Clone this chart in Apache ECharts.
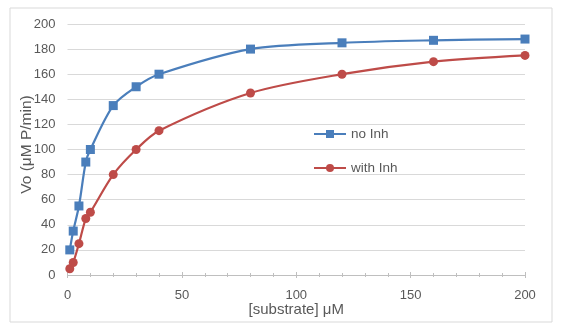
<!DOCTYPE html>
<html><head><meta charset="utf-8">
<script src="https://cdn.jsdelivr.net/npm/echarts@6/dist/echarts.min.js"></script>
<style>html,body{margin:0;padding:0;background:#fff}#c{width:563px;height:332px}</style>
</head><body><div id="c"></div>
<script>
var substrate = [1, 2.5, 5, 8, 10, 20, 30, 40, 80, 120, 160, 200];
var noInh = [20, 35, 55, 90, 100, 135, 150, 160, 180, 185, 187, 188];
var withInh = [5, 10, 25, 45, 50, 80, 100, 115, 145, 160, 170, 175];
var seriesNames = ['no Inh', 'with Inh'];
var xTitle = '[substrate] μM';
var yTitle = 'Vo (μM P/min)';

function pairs(xs, ys){ return xs.map(function(x,i){ return [x, ys[i]]; }); }
var FONT = 'Liberation Sans';
var GRAY = '#595959';
var chart = echarts.init(document.getElementById('c'), null, {renderer:'canvas'});
chart.setOption({
  animation:false,
  backgroundColor:'#fff',
  textStyle:{fontFamily:FONT},
  graphic:[{type:'rect', shape:{x:10,y:8,width:542,height:314}, style:{fill:'none', stroke:'#d9d9d9', lineWidth:1}, z:-10}],
  grid:{left:67.5, right:38, top:24, bottom:57},
  legend:{
    orient:'vertical', left:308, top:122, itemGap:20, itemWidth:32, itemHeight:10,
    textStyle:{color:GRAY, fontSize:13.5, fontFamily:FONT},
    data:seriesNames
  },
  xAxis:[{
    type:'value', min:0, max:200, interval:50,
    name:xTitle, nameLocation:'middle', nameGap:27, nameMoveOverlap:false,
    nameTextStyle:{color:GRAY, fontSize:15, fontFamily:FONT},
    axisLine:{lineStyle:{color:'#bfbfbf'}},
    axisTick:{show:true, length:3, lineStyle:{color:'#bfbfbf'}},
    minorTick:{show:true, splitNumber:5, length:2, lineStyle:{color:'#bfbfbf'}},
    axisLabel:{color:GRAY, fontSize:13, margin:14},
    splitLine:{show:false}
  },{
    type:'value', min:0, max:200, interval:50, position:'bottom',
    axisLine:{show:false},
    axisTick:{show:true, inside:true, length:3, lineStyle:{color:'#bfbfbf'}},
    minorTick:{show:true, splitNumber:5, length:2, lineStyle:{color:'#bfbfbf'}},
    axisLabel:{show:false}, splitLine:{show:false}
  }],
  yAxis:{
    type:'value', min:0, max:200, interval:20,
    name:yTitle, nameLocation:'middle', nameGap:33, nameRotate:90, nameMoveOverlap:false,
    nameTextStyle:{color:GRAY, fontSize:15.5, fontFamily:FONT, padding:[0,0,0,10]},
    axisLine:{show:false}, axisTick:{show:false},
    axisLabel:{color:GRAY, fontSize:13, margin:12},
    splitLine:{lineStyle:{color:'#d9d9d9'}}
  },
  series:[
    {name:seriesNames[0], type:'line', data:pairs(substrate,noInh), smooth:0.3,
     symbol:'rect', symbolSize:9, color:'#4a7ebb',
     lineStyle:{width:2.2, color:'#4a7ebb'}, itemStyle:{color:'#4a7ebb'}},
    {name:seriesNames[1], type:'line', data:pairs(substrate,withInh), smooth:0.3,
     symbol:'circle', symbolSize:9, color:'#be4b48',
     lineStyle:{width:2.2, color:'#be4b48'}, itemStyle:{color:'#be4b48'}}
  ]
});
</script></body></html>
